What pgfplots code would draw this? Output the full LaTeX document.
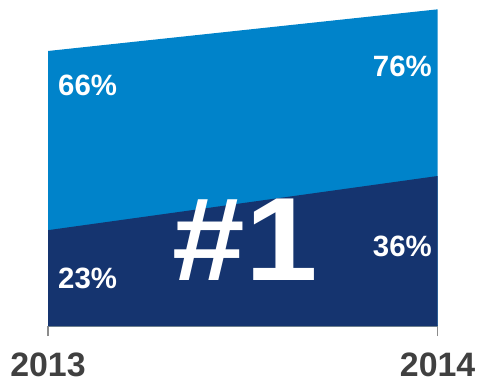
\documentclass[border=0pt]{standalone}
\usepackage{pgfplots}
\pgfplotsset{compat=1.18}
\usepackage{fontspec}
\setmainfont{Liberation Sans}
\definecolor{lblue}{HTML}{0083CA}
\definecolor{navy}{HTML}{15346F}
\definecolor{axgray}{HTML}{8C8C8C}
\definecolor{lblgray}{HTML}{404040}
\begin{document}
\begin{tikzpicture}[x=1bp,y=1bp]
\useasboundingbox (0,0) rectangle (479,385);
\begin{axis}[
  at={(48bp,59bp)}, anchor=south west,
  scale only axis, width=389.6bp, height=325bp,
  xmin=0, xmax=1, ymin=0, ymax=78,
  axis x line=bottom, axis y line=none,
  axis line style={axgray, line width=1.2bp, -},
  xtick={0,1}, xticklabels={2013,2014},
  tick align=outside, major tick length=10bp,
  tick style={axgray, line width=1.2bp},
  xticklabel style={font=\fontsize{34}{34}\selectfont\bfseries, text=lblgray, yshift=-13bp},
  ytick=\empty,
  clip=false,
]
\addplot[fill=lblue, draw=none] coordinates {(0,66) (1,76)} \closedcycle;
\addplot[fill=navy, draw=none] coordinates {(0,23) (1,36)} \closedcycle;
\tikzset{pct/.style={text=white, font=\fontsize{29.5}{29.5}\selectfont\bfseries, inner sep=0pt}}
\node[pct, anchor=base west] at (axis cs:0,55.4) [xshift=10bp] {66\%};
\node[pct, anchor=base west] at (axis cs:0,8.9) [xshift=10bp] {23\%};
\node[pct, anchor=base east] at (axis cs:1,59.8) [xshift=-5.6bp] {76\%};
\node[pct, anchor=base east] at (axis cs:1,16.6) [xshift=-5.6bp] {36\%};
\node[text=white, font=\fontsize{119}{119}\selectfont\bfseries, inner sep=0pt, anchor=base, xscale=1.1] at (axis cs:0.5057,11.0) {\#1};
\end{axis}
\end{tikzpicture}
\end{document}
